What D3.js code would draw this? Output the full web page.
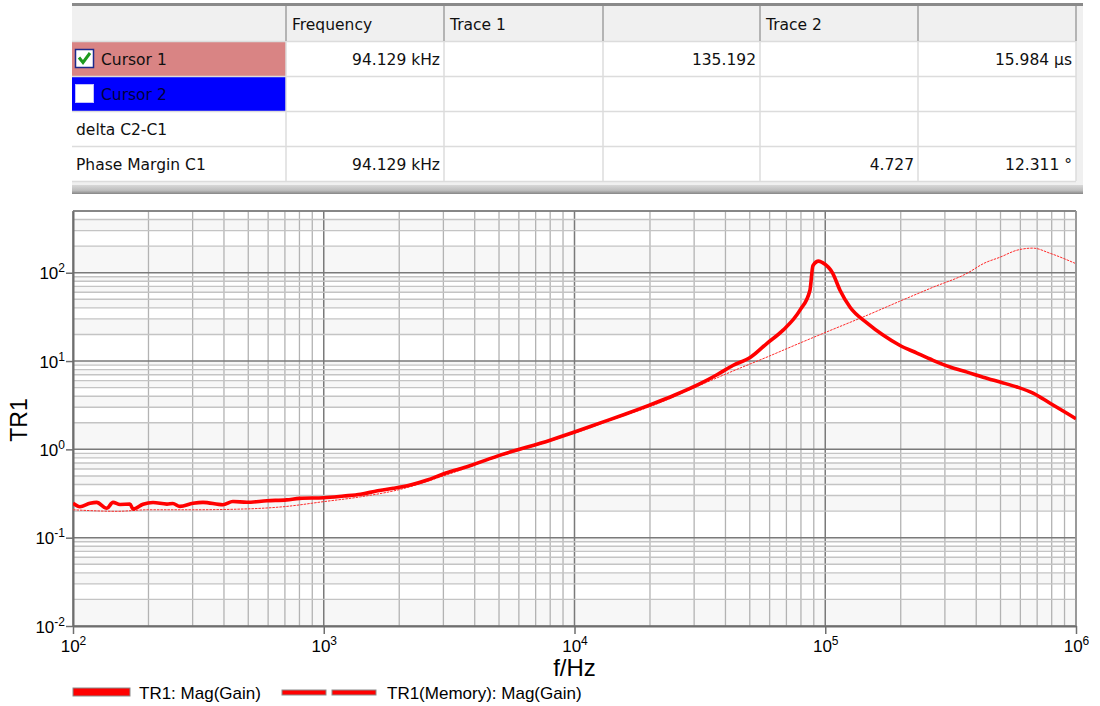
<!DOCTYPE html>
<html>
<head>
<meta charset="utf-8">
<script src="https://cdn.jsdelivr.net/npm/d3@7/dist/d3.min.js"></script>
<style>
  html, body { margin: 0; padding: 0; background: #ffffff; }
  svg { display: block; }
</style>
</head>
<body>
<svg id="chart" width="1100" height="706"></svg>
<script>
// ---------------- DATA ----------------
const tableHeaders = ["", "Frequency", "Trace 1", "", "Trace 2", ""];
const tableRowLabels = ["Cursor 1", "Cursor 2", "delta C2-C1", "Phase Margin C1"];
const tableCells = [
  ["94.129 kHz", "", "135.192", "", "15.984 µs"],
  ["", "", "", "", ""],
  ["", "", "", "", ""],
  ["94.129 kHz", "", "", "4.727", "12.311 °"]
];

// Main trace TR1: Mag(Gain)
const mainFreq = [100, 106.6, 116.9, 124.3, 136.3, 144.4, 154, 168.8, 173.6, 190.2, 208.5, 237, 250, 267, 301, 330, 396, 434, 494, 594, 712, 802, 1000, 1201, 1403, 1640, 1894, 2214, 2588, 2994, 3800, 5050, 8000, 10000, 12600, 15900, 19900, 25000, 31700, 37000, 42800, 50500, 58600, 67900, 79300, 86900, 89300, 94129, 97500, 107000, 114500, 125600, 147000, 170000, 198000, 232000, 269000, 315000, 368000, 426000, 498000, 582000, 674000, 788000, 920000, 1000000];
const mainGain = [0.245, 0.224, 0.245, 0.251, 0.215, 0.251, 0.238, 0.240, 0.211, 0.239, 0.250, 0.240, 0.244, 0.226, 0.245, 0.251, 0.236, 0.257, 0.252, 0.262, 0.268, 0.279, 0.283, 0.296, 0.310, 0.340, 0.362, 0.395, 0.450, 0.526, 0.647, 0.86, 1.27, 1.57, 1.98, 2.5, 3.17, 4.1, 5.55, 7.0, 8.9, 11.1, 15.9, 22.4, 37.7, 63.4, 120, 135.192, 130, 99, 63.4, 40.6, 26.9, 19.7, 15.1, 12.3, 10.2, 8.55, 7.49, 6.57, 5.78, 5.08, 4.33, 3.33, 2.56, 2.22];

// Memory trace TR1(Memory): Mag(Gain)
const memFreq = [100, 150, 200, 300, 500, 700, 1000, 1400, 2000, 3000, 5000, 8000, 10000, 15000, 20000, 31700, 42800, 58600, 79300, 99800, 147000, 198000, 269000, 368000, 430000, 498000, 582000, 674000, 788000, 991000];
const memGain = [0.207, 0.199, 0.207, 0.207, 0.212, 0.225, 0.256, 0.29, 0.35, 0.50, 0.83, 1.24, 1.52, 2.3, 3.05, 5.34, 7.7, 11.1, 16, 21, 33, 47.5, 68.5, 98.6, 128, 150, 180, 190, 166, 128];

const xTickValues = [1e2, 1e3, 1e4, 1e5, 1e6];
const xTickExp = ["2", "3", "4", "5", "6"];
const yTickValues = [1e-2, 1e-1, 1e0, 1e1, 1e2];
const yTickExp = ["-2", "-1", "0", "1", "2"];
const legendLabels = ["TR1: Mag(Gain)", "TR1(Memory): Mag(Gain)"];

// ---------------- LAYOUT ----------------
const svg = d3.select("#chart");

// ---- table ----
const colX = [72, 286, 444, 603, 760, 918, 1076];
const rowY = [6, 41, 76, 111, 146, 181];
const tFont = "'DejaVu Sans', sans-serif";
const tSize = 15.5;

const tbl = svg.append("g");
tbl.append("rect").attr("x", 72).attr("y", 3).attr("width", 1011).attr("height", 3).attr("fill", "#8a8a8a");
tbl.append("rect").attr("x", 72).attr("y", 6).attr("width", 1011).attr("height", 179).attr("fill", "#f0f0f0");
for (let c = 0; c < 6; c++) {
  tbl.append("rect").attr("x", colX[c]).attr("y", rowY[0]).attr("width", colX[c+1]-colX[c]).attr("height", rowY[1]-rowY[0]).attr("fill", "#f0f0f0");
}
const firstColFill = ["#d98484", "#0000ff", "#ffffff", "#ffffff"];
for (let r = 0; r < 4; r++) {
  for (let c = 0; c < 6; c++) {
    tbl.append("rect").attr("x", colX[c]).attr("y", rowY[r+1]).attr("width", colX[c+1]-colX[c]).attr("height", rowY[r+2]-rowY[r+1])
      .attr("fill", c === 0 ? firstColFill[r] : "#ffffff");
  }
}
for (let r = 1; r < 6; r++) {
  tbl.append("line").attr("x1", 72).attr("x2", 1076).attr("y1", rowY[r]+0.5).attr("y2", rowY[r]+0.5).attr("stroke", "#dcdcdc").attr("stroke-width", 1.5);
}
for (let c = 1; c < 7; c++) {
  tbl.append("line").attr("x1", colX[c]).attr("x2", colX[c]).attr("y1", rowY[1]).attr("y2", rowY[5]).attr("stroke", "#dcdcdc").attr("stroke-width", 1.5);
  tbl.append("line").attr("x1", colX[c]).attr("x2", colX[c]).attr("y1", rowY[0]).attr("y2", rowY[1]).attr("stroke", "#b4b4b4").attr("stroke-width", 2);
}
tableHeaders.forEach((h, c) => {
  if (!h) return;
  tbl.append("text").attr("x", colX[c] + 6).attr("y", 30).attr("font-family", tFont).attr("font-size", tSize).attr("fill", "#101010").text(h);
});
tableRowLabels.forEach((lab, r) => {
  const yb = rowY[r+1] + 24;
  const hasBox = r < 2;
  tbl.append("text").attr("x", hasBox ? 101 : 76).attr("y", yb).attr("font-family", tFont).attr("font-size", tSize)
    .attr("fill", r === 1 ? "#00003a" : "#101010").text(lab);
});
tbl.append("rect").attr("x", 75.5).attr("y", 49.5).attr("width", 18).attr("height", 18).attr("fill", "#ffffff").attr("stroke", "#1c2a8c").attr("stroke-width", 1.5);
tbl.append("path").attr("d", "M79,57.5 L83,62.5 L90,53").attr("fill", "none").attr("stroke", "#1e9a1e").attr("stroke-width", 3);
tbl.append("rect").attr("x", 75.5).attr("y", 84.5).attr("width", 18).attr("height", 18).attr("fill", "#ffffff").attr("stroke", "#c0c0ff").attr("stroke-width", 1);
tableCells.forEach((row, r) => {
  row.forEach((v, i) => {
    if (!v) return;
    const c = i + 1;
    tbl.append("text").attr("x", colX[c+1] - 4).attr("y", rowY[r+1] + 24).attr("text-anchor", "end")
      .attr("font-family", tFont).attr("font-size", tSize).attr("fill", "#101010").text(v);
  });
});
const grad = svg.append("defs").append("linearGradient").attr("id", "sep").attr("x1", 0).attr("x2", 0).attr("y1", 0).attr("y2", 1);
grad.append("stop").attr("offset", "0%").attr("stop-color", "#d8d8d8");
grad.append("stop").attr("offset", "60%").attr("stop-color", "#bdbdbd");
grad.append("stop").attr("offset", "100%").attr("stop-color", "#858585");
svg.append("rect").attr("x", 72).attr("y", 185).attr("width", 1011).attr("height", 9).attr("fill", "url(#sep)");

// ---- plot ----
const pL = 73, pR = 1076, pT = 211, pB = 626;
const xS = d3.scaleLog().domain([100, 1e6]).range([pL, pR]);
const yS = d3.scaleLog().domain([0.01, 500]).range([pB, pT]);

const hVals = [];
for (let k = -2; k <= 2; k++) for (let m = 1; m <= 9; m++) { const v = m * Math.pow(10, k); if (v <= 500) hVals.push(v); }
const vVals = [];
for (let k = 2; k <= 5; k++) for (let m = 1; m <= 9; m++) vVals.push(m * Math.pow(10, k));
vVals.push(1e6);

const plot = svg.append("g");
plot.append("rect").attr("x", pL).attr("y", pT).attr("width", pR-pL).attr("height", pB-pT).attr("fill", "#ffffff");
const bandEdges = hVals.concat([500]);
for (let i = 0; i < bandEdges.length - 1; i++) {
  if (i % 2 === 0) {
    plot.append("rect").attr("x", pL).attr("width", pR-pL)
      .attr("y", yS(bandEdges[i+1])).attr("height", yS(bandEdges[i]) - yS(bandEdges[i+1])).attr("fill", "#f7f7f7");
  }
}
const isMajor = v => Math.abs(Math.log10(v) - Math.round(Math.log10(v))) < 1e-9;
plot.selectAll("line.vg").data(vVals).join("line").attr("class", "vg")
  .attr("x1", d => xS(d)).attr("x2", d => xS(d)).attr("y1", pT).attr("y2", pB)
  .attr("stroke", d => isMajor(d) ? "#7a7a7a" : "#b3b3b3").attr("stroke-width", d => isMajor(d) ? 1.5 : 1.3);
plot.selectAll("line.hg").data(hVals).join("line").attr("class", "hg")
  .attr("x1", pL).attr("x2", pR).attr("y1", d => yS(d)).attr("y2", d => yS(d))
  .attr("stroke", d => isMajor(d) ? "#7a7a7a" : "#c4c4c4").attr("stroke-width", d => isMajor(d) ? 1.5 : 1.4);
plot.append("line").attr("x1", pL).attr("x2", pR).attr("y1", pT).attr("y2", pT).attr("stroke", "#6e6e6e").attr("stroke-width", 1.5);
plot.append("line").attr("x1", pR).attr("x2", pR).attr("y1", pT).attr("y2", pB).attr("stroke", "#9a9a9a").attr("stroke-width", 1.5);

const axFont = "'Liberation Sans', Arial, sans-serif";
const yAxis = svg.append("g").attr("transform", `translate(${pL},0)`)
  .call(d3.axisLeft(yS).tickValues(yTickValues).tickFormat("").tickSize(7).tickSizeOuter(0));
const xAxis = svg.append("g").attr("transform", `translate(0,${pB})`)
  .call(d3.axisBottom(xS).tickValues(xTickValues).tickFormat("").tickSize(8).tickSizeOuter(0));
[yAxis, xAxis].forEach(a => {
  a.select(".domain").attr("stroke", "#6e6e6e").attr("stroke-width", 2);
  a.selectAll(".tick line").attr("stroke", "#6e6e6e").attr("stroke-width", 1.5);
});
yAxis.selectAll(".tick").each(function(d, i) {
  const t = d3.select(this).append("text").attr("x", -8).attr("y", 6).attr("text-anchor", "end")
    .attr("font-family", axFont).attr("font-size", 17).attr("fill", "#000");
  t.append("tspan").text("10");
  t.append("tspan").attr("dy", -7).attr("font-size", 12).text(yTickExp[i]);
});
xAxis.selectAll(".tick").each(function(d, i) {
  const t = d3.select(this).append("text").attr("x", 0).attr("y", 26).attr("text-anchor", "middle")
    .attr("font-family", axFont).attr("font-size", 17).attr("fill", "#000");
  t.append("tspan").text("10");
  t.append("tspan").attr("dy", -7).attr("font-size", 12).text(xTickExp[i]);
});

svg.append("text").attr("transform", "translate(27,420) rotate(-90)").attr("text-anchor", "middle")
  .attr("font-family", axFont).attr("font-size", 23).attr("fill", "#000").text("TR1");
svg.append("text").attr("x", xS(1e4)).attr("y", 676).attr("text-anchor", "middle")
  .attr("font-family", axFont).attr("font-size", 24).attr("fill", "#000").text("f/Hz");

svg.append("clipPath").attr("id", "pc").append("rect").attr("x", pL).attr("y", pT).attr("width", pR-pL).attr("height", pB-pT);
const lineGen = d3.line().x(d => xS(d[0])).y(d => yS(d[1])).curve(d3.curveMonotoneX);
const memData = memFreq.map((f, i) => [f, memGain[i]]);
const mainData = mainFreq.map((f, i) => [f, mainGain[i]]);
svg.append("path").datum(memData).attr("d", lineGen).attr("clip-path", "url(#pc)")
  .attr("fill", "none").attr("stroke", "#ff2a2a").attr("stroke-width", 1).attr("stroke-dasharray", "2.5,1");
svg.append("path").datum(mainData).attr("d", lineGen).attr("clip-path", "url(#pc)")
  .attr("fill", "none").attr("stroke", "#ff0000").attr("stroke-width", 3.6).attr("stroke-linejoin", "round");

const lg = svg.append("g");
lg.append("rect").attr("x", 73).attr("y", 688).attr("width", 57).attr("height", 8).attr("fill", "#ff0000").attr("stroke", "#8a8a8a").attr("stroke-width", 1);
lg.append("text").attr("x", 139).attr("y", 699).attr("font-family", axFont).attr("font-size", 17).attr("fill", "#000").text(legendLabels[0]);
lg.append("rect").attr("x", 282).attr("y", 690).attr("width", 44).attr("height", 5).attr("fill", "#ff0000").attr("stroke", "#8a8a8a").attr("stroke-width", 1);
lg.append("rect").attr("x", 332).attr("y", 690).attr("width", 44).attr("height", 5).attr("fill", "#ff0000").attr("stroke", "#8a8a8a").attr("stroke-width", 1);
lg.append("text").attr("x", 387).attr("y", 699).attr("font-family", axFont).attr("font-size", 17).attr("fill", "#000").text(legendLabels[1]);
</script>
</body>
</html>
